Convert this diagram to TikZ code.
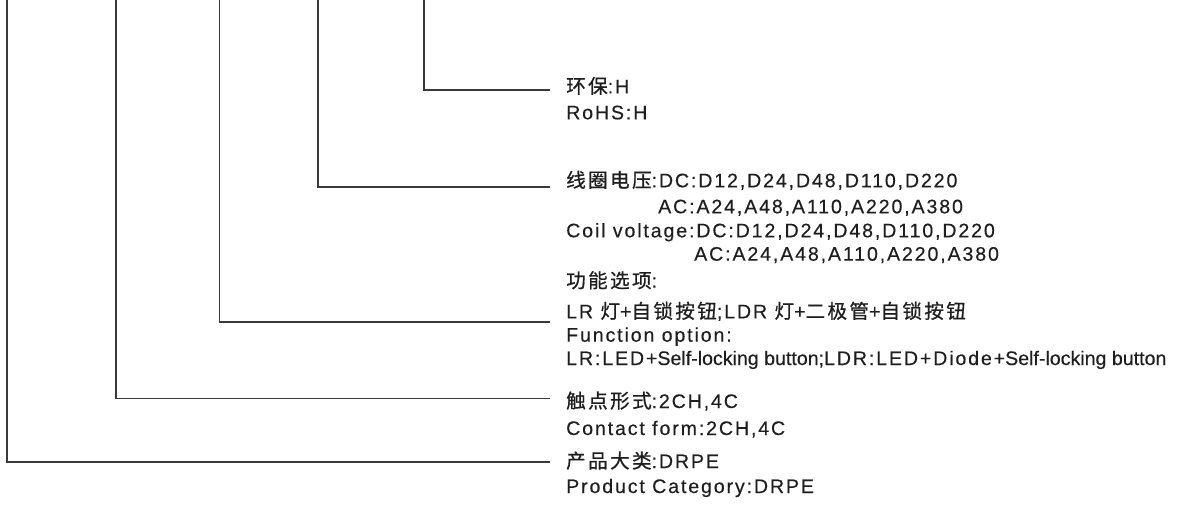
\documentclass[tikz,border=0pt]{standalone}
\usepackage{fontspec}
\setmainfont{Liberation Sans}[LetterSpace=9.5,FakeBold=0.3]
\newfontfamily\zhfont{Noto Sans CJK SC}[LetterSpace=12,FakeBold=0.8]
\newfontfamily\plainfont{Liberation Sans}[FakeBold=0.3]
\newcommand{\cn}[1]{{\zhfont #1}}
\newcommand{\pl}[1]{{\plainfont #1}}
\usetikzlibrary{positioning}
\definecolor{ink}{HTML}{1E1E1E}
\definecolor{wire}{HTML}{3A3A3A}

\begin{document}
\begin{tikzpicture}[x=1pt,y=-1pt,font=\fontsize{19.6}{23}\selectfont,
        lbl/.style={anchor=base west,inner sep=0pt,text=ink},
        lead/.style={draw=wire,line width=1.3pt}]
		\useasboundingbox (0,0) rectangle (1185,506);
		\coordinate (t1) at (7,0);
		\coordinate (t2) at (116,0);
		\coordinate (t3) at (219.7,0);
		\coordinate (t4) at (318,0);
		\coordinate (t5) at (424,0);
		\coordinate (e1) at (550,462);
		\coordinate (e2) at (550,398.7);
		\coordinate (e3) at (550,322);
		\coordinate (e4) at (550,187);
		\coordinate (e5) at (550,90);
		\node [lbl] (1) at (566,93.3) {\cn{环保}:H};
		\node [lbl] (2) at (566,119.3) {RoHS:H};
		\node [lbl] (3) at (566,187.3) {\cn{线圈电压}:DC:D12,D24,D48,D110,D220};
		\node [lbl] (4) at (658,213.3) {AC:A24,A48,A110,A220,A380};
		\node [lbl] (5) at (566,237.3) {Coil voltage:DC:D12,D24,D48,D110,D220};
		\node [lbl] (6) at (694,260.7) {AC:A24,A48,A110,A220,A380};
		\node [lbl] (7) at (566,287.7) {\cn{功能选项}:};
		\node [lbl] (8) at (566,318.3) {LR \cn{灯}+\cn{自锁按钮};LDR \cn{灯}+\cn{二极管}+\cn{自锁按钮}};
		\node [lbl] (9) at (566,341.7) {Function option:};
		\node [lbl] (10) at (566,365) {LR:LED+\pl{Self-locking button;}LDR:LED+Diode+\pl{Self-locking button}};
		\node [lbl] (11) at (566,408) {\cn{触点形式}:2CH,4C};
		\node [lbl] (12) at (566,435) {Contact form:2CH,4C};
		\node [lbl] (13) at (566,468) {\cn{产品大类}:DRPE};
		\node [lbl] (14) at (566,493) {Product Category:DRPE};
		\draw [lead] (t1) |- (e1);
		\draw [lead] (t2) |- (e2);
		\draw [lead] (t3) |- (e3);
		\draw [lead] (t4) |- (e4);
		\draw [lead] (t5) |- (e5);
\end{tikzpicture}
\end{document}
